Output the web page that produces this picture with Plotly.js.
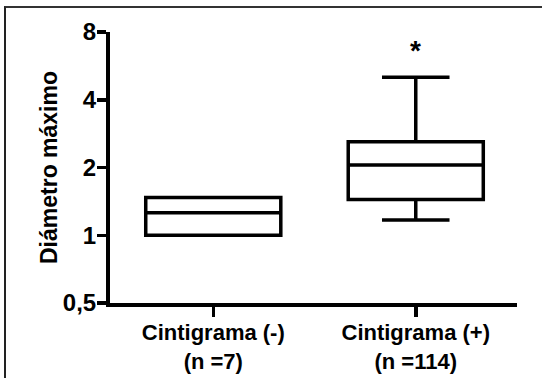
<!DOCTYPE html>
<html>
<head>
<meta charset="utf-8">
<script src="https://cdn.plot.ly/plotly-3.0.1.min.js"></script>
<style>
  html, body { margin: 0; padding: 0; background: #ffffff; }
  #wrap { position: relative; width: 542px; height: 378px; overflow: hidden; }
  #chart { position: absolute; left: 0; top: 0; width: 542px; height: 378px; }
  #frame { position: absolute; left: 4px; top: 6px; right: -10px; bottom: -10px;
           border-top: 2px solid #333; border-left: 2px solid #222; pointer-events: none; }
</style>
</head>
<body>
<div id="wrap">
  <div id="chart"></div>
  <div id="frame"></div>
</div>
<script>
// ---- data ----
const categories = ["Cintigrama (-)<br>(n =7)", "Cintigrama (+)<br>(n =114)"];
const lowerFence = [1.0, 1.17];
const q1 = [1.0, 1.44];
const median = [1.26, 2.05];
const q3 = [1.47, 2.60];
const upperFence = [1.47, 5.03];
const yTickVals = [0.5, 1, 2, 4, 8];
const yTickText = ["0,5", "1", "2", "4", "8"];
const significanceLabel = "*";
const significanceCategory = categories[1];
const significanceY = 6.6;

const FONT = "Liberation Sans, Arial, Helvetica, sans-serif";

const trace = {
  type: "box",
  x: categories,
  q1: q1,
  median: median,
  q3: q3,
  lowerfence: lowerFence,
  upperfence: upperFence,
  width: 0.667,
  whiskerwidth: 0.5,
  fillcolor: "rgba(255,255,255,0)",
  line: { color: "#000000", width: 3.5 },
  boxpoints: false,
  hoverinfo: "skip",
  showlegend: false
};

const layout = {
  width: 542,
  height: 378,
  margin: { l: 110, r: 25, t: 32, b: 75 },
  paper_bgcolor: "#ffffff",
  plot_bgcolor: "#ffffff",
  font: { family: FONT, color: "#000000", size: 22, weight: 700 },
  showlegend: false,
  xaxis: {
    type: "category",
    range: [-0.51, 1.5],
    showgrid: false,
    zeroline: false,
    showline: true,
    linecolor: "#000000",
    linewidth: 4,
    ticks: "outside",
    ticklen: 10,
    tickwidth: 3.5,
    tickcolor: "#000000",
    ticklabelstandoff: -3,
    tickfont: { family: FONT, size: 22, color: "#000000", weight: 700 },
    fixedrange: true
  },
  yaxis: {
    type: "log",
    range: [Math.log10(0.5), Math.log10(8)],
    tickvals: yTickVals,
    ticktext: yTickText,
    showgrid: false,
    zeroline: false,
    showline: true,
    linecolor: "#000000",
    linewidth: 4,
    ticks: "outside",
    ticklen: 9,
    tickwidth: 3.5,
    tickcolor: "#000000",
    ticklabelstandoff: -4,
    tickfont: { family: FONT, size: 24, color: "#000000", weight: 700 },
    title: { text: "Diámetro máximo", font: { family: FONT, size: 23, color: "#000000", weight: 700 }, standoff: 0 },
    fixedrange: true
  },
  annotations: [{
    x: significanceCategory,
    y: Math.log10(significanceY),
    xref: "x",
    yref: "y",
    text: significanceLabel,
    showarrow: false,
    xanchor: "center",
    yanchor: "middle",
    font: { family: FONT, size: 28, color: "#000000", weight: 700 }
  }]
};

Plotly.newPlot("chart", [trace], layout, { displayModeBar: false, staticPlot: true });
</script>
</body>
</html>
